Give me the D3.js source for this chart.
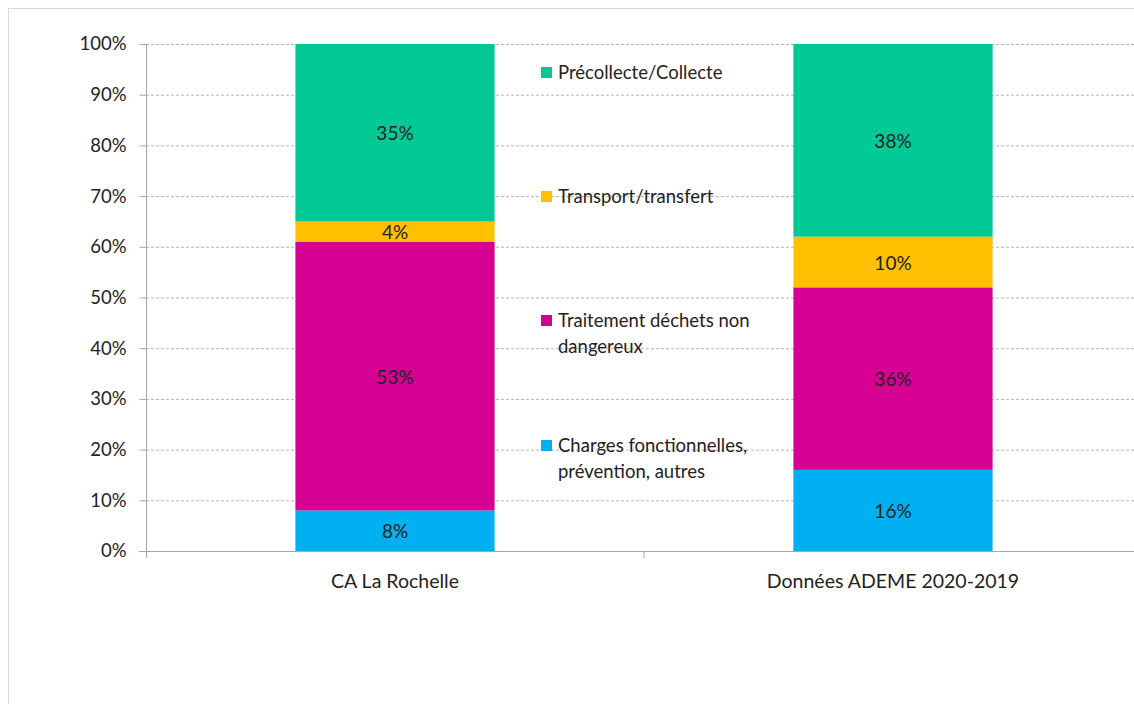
<!DOCTYPE html>
<html><head><meta charset="utf-8">
<script src="https://cdn.jsdelivr.net/npm/d3@7"></script>
<style>
body{margin:0;background:#fff;}
text{font-family:Lato,"Open Sans",sans-serif;fill:#222;}
</style></head>
<body><svg id="c" width="1134" height="704"></svg>
<script>
const categories = ["CA La Rochelle", "Données ADEME 2020-2019"];
const seriesNames = ["Charges fonctionnelles, prévention, autres", "Traitement déchets non dangereux", "Transport/transfert", "Précollecte/Collecte"];
const charges = [8, 16];
const traitement = [53, 36];
const transport = [4, 10];
const precollecte = [35, 38];
const yTicks = [0,10,20,30,40,50,60,70,80,90,100];
const colors = ["#00B0F0", "#D60093", "#FFC000", "#00C996"];
const legendLines = [
  ["Charges fonctionnelles,", "prévention, autres"],
  ["Traitement déchets non", "dangereux"],
  ["Transport/transfert"],
  ["Précollecte/Collecte"]
];

(function(){
const svg = d3.select("#c");
svg.append("rect").attr("x",8.5).attr("y",8.5).attr("width",1140).attr("height",720)
  .attr("fill","#fff").attr("stroke","#d9d9d9");

const pl = 146, pr = 1142, pt = 44, pb = 551;
const x = d3.scaleBand().domain(categories).range([pl,pr]).paddingInner(0.6).paddingOuter(0.3);
const y = d3.scaleLinear().domain([0,100]).range([pb,pt]);

// gridlines
svg.append("g").selectAll("line").data(yTicks.filter(d=>d>0)).join("line")
  .attr("x1",pl).attr("x2",pr).attr("y1",d=>y(d)+0.5).attr("y2",d=>y(d)+0.5)
  .attr("stroke","#b4b4b4").attr("stroke-dasharray","3,2");

// stacked
const rows = categories.map((c,i)=>({cat:c, s0:charges[i], s1:traitement[i], s2:transport[i], s3:precollecte[i]}));
const stack = d3.stack().keys(["s0","s1","s2","s3"])(rows);
const g = svg.append("g");
stack.forEach((layer,li)=>{
  layer.forEach(d=>{
    g.append("rect").attr("x",x(d.data.cat)).attr("width",x.bandwidth())
      .attr("y",y(d[1])).attr("height",y(d[0])-y(d[1])).attr("fill",colors[li]);
    g.append("text").attr("x",x(d.data.cat)+x.bandwidth()/2).attr("y",(y(d[0])+y(d[1]))/2+1)
      .attr("dy","0.35em").attr("text-anchor","middle").attr("font-size",19)
      .text((d[1]-d[0])+"%");
  });
});

// y axis
const ya = svg.append("g").attr("transform",`translate(${pl+0.5},0)`)
  .call(d3.axisLeft(y).tickValues(yTicks).tickFormat(d=>d+"%").tickSize(7).tickPadding(13));
ya.select(".domain").remove();
ya.selectAll("line").attr("stroke","#a6a6a6");
ya.selectAll("text").attr("font-size",18.5).attr("font-family","Lato,sans-serif").attr("fill","#222");
svg.append("line").attr("x1",pl+0.5).attr("x2",pl+0.5).attr("y1",pt).attr("y2",pb+7).attr("stroke","#a6a6a6");

// x axis
svg.append("line").attr("x1",pl-7).attr("x2",pr).attr("y1",pb+0.5).attr("y2",pb+0.5).attr("stroke","#a6a6a6");
const mid = (x(categories[0])+x.bandwidth()/2 + x(categories[1])+x.bandwidth()/2)/2;
svg.append("line").attr("x1",mid).attr("x2",mid).attr("y1",pb).attr("y2",pb+7).attr("stroke","#a6a6a6");
svg.append("g").selectAll("text").data(categories).join("text")
  .attr("x",d=>x(d)+x.bandwidth()/2).attr("y",588).attr("text-anchor","middle").attr("font-size",19.5).text(d=>d);

// legend
const legendY = [446, 321, 197, 73];
legendLines.forEach((lines,i)=>{
  svg.append("rect").attr("x",541).attr("y",legendY[i]-6).attr("width",11).attr("height",11).attr("fill",colors[i]);
  lines.forEach((t,j)=>{
    svg.append("text").attr("x",558).attr("y",legendY[i]+j*26).attr("dy","0.35em").attr("font-size",18.5).text(t);
  });
});
})();
</script></body></html>
